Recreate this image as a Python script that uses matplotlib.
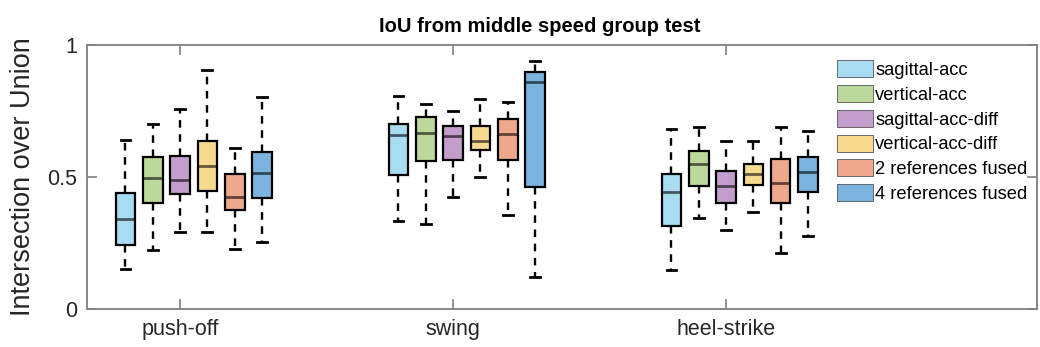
import numpy as np
import matplotlib
matplotlib.use('Agg')
import matplotlib.pyplot as plt
from matplotlib.patches import Patch

plt.rcParams['font.family'] = ['Liberation Sans', 'DejaVu Sans']

################################################################################
# Data: IoU box statistics per gait phase and per reference method
phases = ['push-off', 'swing', 'heel-strike']
methods = ['sagittal-acc', 'vertical-acc', 'sagittal-acc-diff',
           'vertical-acc-diff', '2 references fused', '4 references fused']

# rows = phases, columns = methods
whislo = [[0.150, 0.222, 0.292, 0.292, 0.226, 0.253],
          [0.335, 0.322, 0.424, 0.501, 0.355, 0.123],
          [0.148, 0.345, 0.298, 0.367, 0.213, 0.276]]
q1 = [[0.244, 0.403, 0.435, 0.447, 0.376, 0.422],
      [0.508, 0.561, 0.566, 0.602, 0.564, 0.464],
      [0.313, 0.466, 0.401, 0.470, 0.401, 0.445]]
med = [[0.341, 0.497, 0.489, 0.541, 0.426, 0.516],
       [0.660, 0.667, 0.654, 0.635, 0.664, 0.861],
       [0.445, 0.549, 0.466, 0.510, 0.476, 0.518]]
q3 = [[0.441, 0.576, 0.579, 0.635, 0.510, 0.595],
      [0.699, 0.727, 0.694, 0.695, 0.718, 0.898],
      [0.511, 0.598, 0.524, 0.551, 0.570, 0.574]]
whishi = [[0.642, 0.699, 0.758, 0.906, 0.608, 0.802],
          [0.806, 0.777, 0.751, 0.796, 0.783, 0.940],
          [0.683, 0.689, 0.637, 0.637, 0.689, 0.674]]

colors = ['#a8dcf3', '#bdd89b', '#c39dcc', '#f7da8e', '#eea88b', '#7bb4df']

################################################################################
# Plot
fig = plt.figure(figsize=(10.4, 3.47), dpi=100)
ax = fig.add_axes([87 / 1040, 1 - 309 / 347, 950 / 1040, 264 / 347])

offsets = np.array([-0.2, -0.1, 0.0, 0.1, 0.2, 0.3])
grey = '#808080'

for g in range(len(phases)):
    for m in range(len(methods)):
        stats = [dict(med=med[g][m], q1=q1[g][m], q3=q3[g][m],
                      whislo=whislo[g][m], whishi=whishi[g][m], fliers=[])]
        ax.bxp(stats, positions=[g + 1 + offsets[m]], widths=0.072,
               capwidths=0.036, patch_artist=True, showfliers=False,
               boxprops=dict(facecolor=colors[m], edgecolor='black', linewidth=1.6),
               medianprops=dict(color='black', alpha=0.6, linewidth=2.0),
               whiskerprops=dict(color='black', linewidth=1.7, linestyle=(0, (3.2, 2.8))),
               capprops=dict(color='black', linewidth=2.0))

ax.set_xlim(0.659, 4.139)
ax.set_ylim(0, 1)
ax.set_xticks([1, 2, 3])
ax.set_xticklabels(phases)
ax.set_yticks([0, 0.5, 1])
ax.set_yticklabels(['0', '0.5', '1'])
ax.tick_params(direction='in', length=7, width=1.2, color=grey,
               labelsize=15.5, labelcolor='#262626', top=True, right=True, pad=7)
for s in ax.spines.values():
    s.set_color(grey)
    s.set_linewidth(1.3)

ax.set_ylabel('Intersection over Union', fontsize=19.5, color='#262626', labelpad=8)
ax.set_title('IoU from middle speed group test', fontsize=14.5, fontweight='bold',
             x=0.476, pad=9)

handles = [Patch(facecolor=c, edgecolor='#555555', linewidth=0.6) for c in colors]
ax.legend(handles, methods, loc='upper left', bbox_to_anchor=(0.782, 0.97),
          frameon=False, fontsize=13.2, handlelength=1.95, handleheight=1.05,
          handletextpad=0.12, labelspacing=0.33, borderaxespad=0)

fig.savefig('out.png', dpi=100)
